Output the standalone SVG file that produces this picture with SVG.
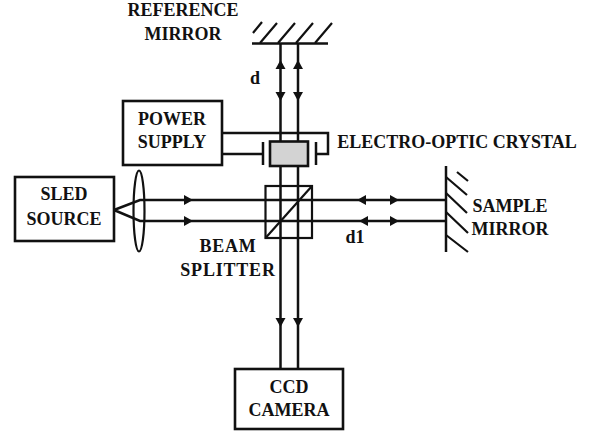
<svg xmlns="http://www.w3.org/2000/svg" width="592" height="434" viewBox="0 0 592 434">
<style>
text{font-family:"Liberation Serif",serif;font-weight:bold;font-size:18px;fill:#111;text-anchor:middle}
.l{fill:none;stroke:#111;stroke-width:2.5}
.t{fill:none;stroke:#111;stroke-width:2.2}
.b{fill:#fff;stroke:#111;stroke-width:2.6}
.w{letter-spacing:.8px}
</style>
<defs><path id="a" d="M-9-5L0 0L-9 5Z" fill="#111"/></defs>
<rect width="592" height="434" fill="#fff"/>
<g id="connectors">
<path class="l" d="M280.500 43.500V369M298 43.500V369"/>
<path class="l" d="M114 210L140 200H446M114 210L140 221H446"/>
<path class="l" d="M222 133H328V154H316M222 154H263"/>
<use href="#a" transform="translate(280.500 60) rotate(-90)"/><use href="#a" transform="translate(298 60) rotate(-90)"/>
<use href="#a" transform="translate(280.500 101) rotate(90)"/><use href="#a" transform="translate(298 101) rotate(90)"/>
<use href="#a" transform="translate(280.500 327) rotate(90)"/><use href="#a" transform="translate(298 327) rotate(90)"/>
<use href="#a" transform="translate(193 200)"/><use href="#a" transform="translate(193 221)"/>
<use href="#a" transform="translate(399 200)"/><use href="#a" transform="translate(399 221)"/>
<use href="#a" transform="translate(357 200) rotate(180)"/><use href="#a" transform="translate(359 221) rotate(180)"/>
</g>
<g id="reference-mirror">
<path class="l" d="M252 43.500H328"/>
<path class="t" d="M253 33L262 22M260 43L277 23M278 43L295 23M296 43L313 23M315 43L332 23"/>
<text x="183" y="16">REFERENCE</text><text x="183" y="40">MIRROR</text>
<text x="255" y="84">d</text>
</g>
<g id="power-supply"><rect class="b" x="123" y="101" width="99" height="64"/>
<text x="172" y="125">POWER</text><text x="172" y="148">SUPPLY</text></g>
<g id="electro-optic-crystal">
<path class="l" d="M263 142V165M316 142V165"/>
<rect x="270" y="141.500" width="38" height="24.500" fill="#d3d3d3" stroke="#111" stroke-width="2.600"/>
<text x="457" y="148">ELECTRO-OPTIC CRYSTAL</text></g>
<g id="sled-source"><rect class="b" x="15" y="177" width="99" height="64"/>
<text x="64" y="200">SLED</text><text x="64" y="225">SOURCE</text></g>
<g id="lens"><ellipse class="t" cx="139" cy="211" rx="5.500" ry="40.500"/></g>
<g id="beam-splitter">
<rect class="t" x="265.500" y="186" width="46.500" height="52"/>
<path class="t" d="M265.500 238L312 186"/>
<text class="w" x="228" y="252">BEAM</text><text class="w" x="228" y="276">SPLITTER</text>
<text x="355" y="243">d1</text></g>
<g id="sample-mirror">
<path class="l" d="M446 166V252"/>
<path class="t" d="M457 172L468 181M446 177L467 195M446 193L467 213M446 212L468 233M446 235L468 252"/>
<text x="510" y="212">SAMPLE</text><text x="510" y="235">MIRROR</text></g>
<g id="ccd-camera"><rect class="b" x="235" y="369" width="108" height="60"/>
<text x="289" y="393">CCD</text><text x="289" y="416">CAMERA</text></g>
</svg>
